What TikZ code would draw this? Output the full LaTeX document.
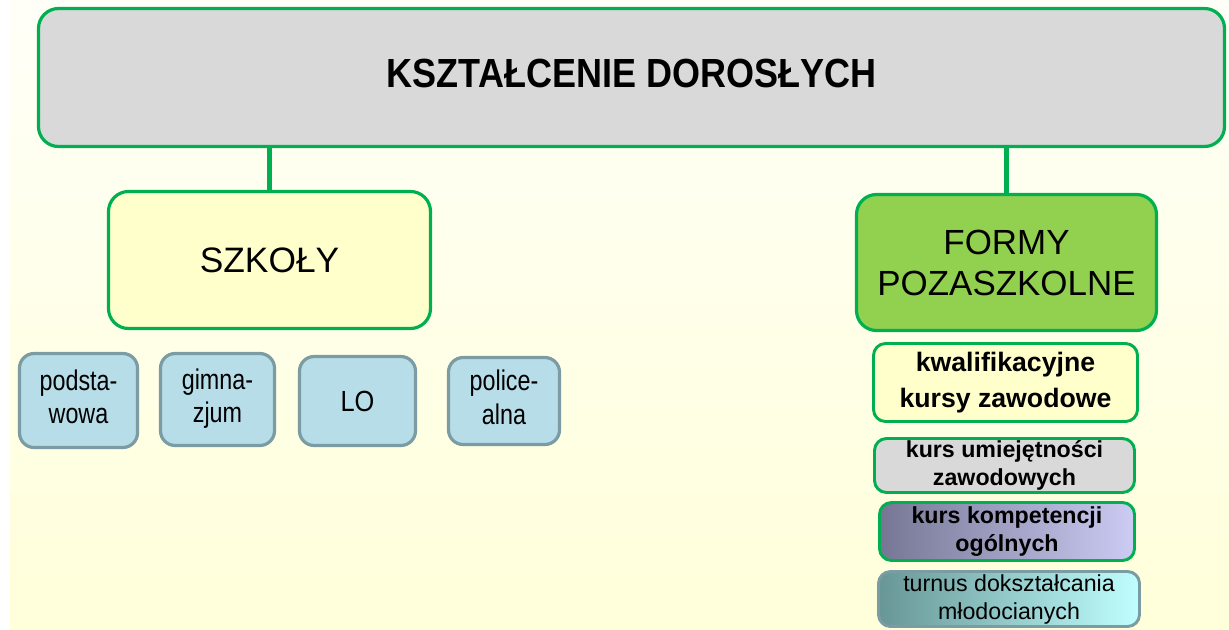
\documentclass[tikz,border=0pt]{standalone}
\usepackage{fontspec}
\setmainfont{Liberation Sans}
\definecolor{ramka}{RGB}{0,176,80}
\definecolor{szary}{RGB}{217,217,217}
\definecolor{kremowy}{RGB}{255,255,204}
\definecolor{trawa}{RGB}{146,208,80}
\definecolor{blekit}{RGB}{183,222,232}
\definecolor{ramkab}{RGB}{122,156,162}
\definecolor{fiolet1}{RGB}{118,118,148}
\definecolor{fiolet2}{RGB}{204,204,244}
\definecolor{morski1}{RGB}{104,150,150}
\definecolor{morski2}{RGB}{192,255,255}
\definecolor{tlo1}{RGB}{255,255,248}
\definecolor{tlo2}{RGB}{255,255,218}

% text stretched in height
\newcommand{\rozciag}[2]{\scalebox{1}[#1]{\begin{tabular}{@{}c@{}}#2\end{tabular}}}

\tikzset{
  zielona/.style={draw=ramka, line width=2.4pt, rounded corners=15pt, inner sep=0pt, align=center},
  mala/.style={draw=ramkab, line width=2.4pt, fill=blekit, rounded corners=11pt, inner sep=0pt, align=center,
    font=\fontsize{17.5}{20.6}\selectfont},
  kurs/.style={draw=ramka, line width=2.2pt, rounded corners=9pt, inner sep=0pt, align=center,
    font=\fontsize{17.4}{21}\selectfont\bfseries},
  laczenie/.style={draw=ramka, line width=4pt}
}

\begin{document}
\begin{tikzpicture}[x=0.75pt,y=0.75pt,yscale=-1,xscale=1]
\useasboundingbox (0,0) rectangle (1229,629);

%Background
\shade[top color=tlo1, bottom color=tlo2] (10,0) rectangle (1229,629);

% Main box
\node [zielona, fill=szary, minimum width=889.5pt, minimum height=103.5pt,
  font=\fontsize{27}{32}\selectfont\bfseries] (tytul) at (631.5,77.5) {\rozciag{1.13}{KSZTAŁCENIE DOROSŁYCH}};

% Second level
\node [zielona, fill=kremowy, minimum width=241.5pt, minimum height=102.75pt,
  font=\fontsize{26.5}{31}\selectfont] (szkoly) at (269.5,260) {SZKOŁY};
\node [zielona, fill=trawa, minimum width=225pt, minimum height=102pt,
  font=\fontsize{26.2}{30.75}\selectfont] (formy) at (1006.5,262.5) {FORMY\\POZASZKOLNE};

%Straight Lines
\draw [laczenie] (szkoly.north) -- (szkoly.north |- tytul.south);
%Straight Lines
\draw [laczenie] (formy.north) -- (formy.north |- tytul.south);

% Schools
\node [mala, minimum width=88.5pt, minimum height=70.5pt] (podstawowa) at (78.5,400.5) {\rozciag{1.22}{podsta-\\wowa}};
\node [mala, minimum width=85.5pt, minimum height=69pt] (gimnazjum) at (217.5,399.5) {\rozciag{1.22}{gimna-\\zjum}};
\node [mala, minimum width=87pt, minimum height=66.75pt, font=\fontsize{19}{22}\selectfont] (lo) at (357.5,401) {\scalebox{1}[1.15]{LO}};
\node [mala, minimum width=83.25pt, minimum height=65.25pt] (policealna) at (504,401) {\rozciag{1.22}{police-\\alna}};

% Courses
\node [kurs, fill=kremowy, minimum width=198pt, minimum height=58.5pt,
  font=\fontsize{20}{27}\selectfont\bfseries] (kwalifikacyjne) at (1005.5,382.5) {kwalifikacyjne\\kursy zawodowe};
\node [kurs, fill=szary, minimum width=195pt, minimum height=40.5pt] (umiejetnosci) at (1004.5,465.5) {kurs umiejętności\\zawodowych};
\node [kurs, left color=fiolet1, right color=fiolet2, minimum width=191.25pt, minimum height=43.5pt] (kompetencje) at (1007,531.5) {kurs kompetencji\\ogólnych};
\node [kurs, draw=ramkab, left color=morski1, right color=morski2, minimum width=195.75pt, minimum height=41.25pt,
  font=\fontsize{17.4}{21}\selectfont] (turnus) at (1009,599) {turnus dokształcania\\młodocianych};

\end{tikzpicture}
\end{document}
